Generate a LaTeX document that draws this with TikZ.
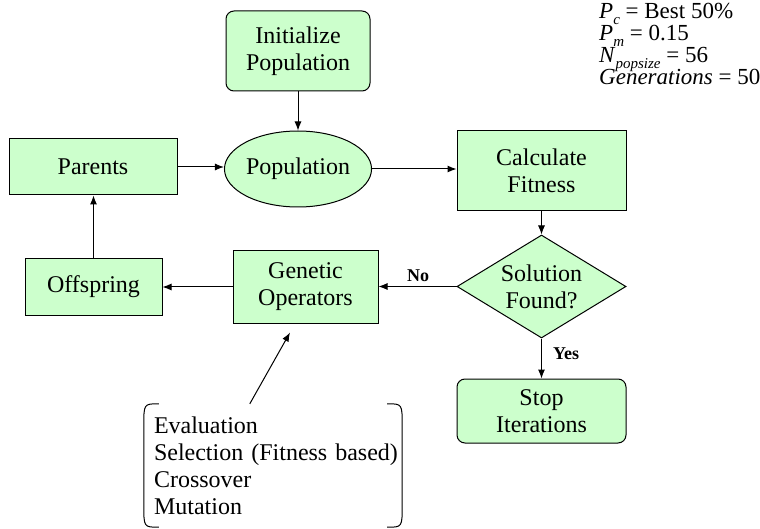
\documentclass[tikz,border=0pt]{standalone}
\usepackage{fontspec}
\setmainfont{Liberation Serif}
\usetikzlibrary{shapes.geometric,arrows.meta,calc}
\definecolor{boxgreen}{HTML}{CCFFCC}
\newcommand\sbs[1]{\smash{\raisebox{-0.28em}{\fontsize{15}{15}\selectfont\itshape #1}}}
\begin{document}
\begin{tikzpicture}[x=1pt,y=-1pt,
  every node/.style={font=\fontsize{24}{27}\selectfont},
  box/.style={draw=black, line width=1pt, fill=boxgreen, align=center, inner sep=0pt},
  rbox/.style={box, rounded corners=8pt},
  arr/.style={line width=1pt, -{Latex[length=9pt,width=7pt]}},
  lbl/.style={font=\fontsize{18}{18}\selectfont\bfseries, inner sep=0pt},
  bracket/.style={line width=1pt}]
\useasboundingbox[fill=white] (0,0) rectangle (760,529);

\node[rbox, minimum width=144pt, minimum height=80pt] (init) at (298,51) {Initialize\\Population};
\node[box, ellipse, minimum width=144pt, minimum height=76pt] (pop) at (298,169) {Population};
\node[box, minimum width=168pt, minimum height=56pt] (parents) at (93,167) {Parents};
\node[box, minimum width=169pt, minimum height=80pt] (calc) at (541.5,171) {Calculate\\Fitness};
\node[box, diamond, aspect=1.64, minimum width=169pt, minimum height=103pt] (sol) at (541.5,286.5) {Solution\\Found?};
\node[box, minimum width=145pt, minimum height=72pt] (gen) at (305.5,287) {Genetic\\Operators};
\node[box, minimum width=137pt, minimum height=56pt] (off) at (93.5,287) {Offspring};
\node[rbox, minimum width=169pt, minimum height=64pt] (stop) at (541.5,411) {Stop\\Iterations};

\node[align=left, inner xsep=0pt, inner ysep=0pt, minimum height=123pt, text width=246pt] (ops) at (277,465.5)
  {Evaluation\\Selection (Fitness based)\\Crossover\\Mutation};
\draw[bracket] ($(ops.north west)+(5,0)$) .. controls ($(ops.north west)+(-10,0)$) .. ($(ops.north west)+(-10,22)$)
  -- ($(ops.south west)+(-10,-22)$) .. controls ($(ops.south west)+(-10,0)$) .. ($(ops.south west)+(5,0)$);
\draw[bracket] ($(ops.north east)+(-13,0)$) .. controls ($(ops.north east)+(2,0)$) .. ($(ops.north east)+(2,22)$)
  -- ($(ops.south east)+(2,-22)$) .. controls ($(ops.south east)+(2,0)$) .. ($(ops.south east)+(-13,0)$);

\node[anchor=north west, align=left, inner sep=0pt, font=\fontsize{23}{22}\selectfont] (params) at (599,3)
  {\textit{P}\sbs{c} = Best 50\%\\
   \textit{P}\sbs{m} = 0.15\\
   \textit{N}\sbs{popsize} = 56\\
   \textit{Generations} = 50};

\draw[arr] (init.south) -- (pop.north);
\draw[arr] (parents.east) -- (parents.east -| pop.west);
\draw[arr] (pop.east) -- (pop.east -| calc.west);
\draw[arr] (calc.south) -- (sol.north);
\draw[arr] (sol.west) -- (sol.west -| gen.east);
\draw[arr] (gen.west) -- (gen.west -| off.east);
\draw[arr] (off.north) -- (off.north |- parents.south);
\draw[arr] (sol.south) -- (stop.north);
\coordinate (opstip) at ($(ops.north west)+(96,0)$);
\coordinate (gentip) at ($(gen.south)+(-15.5,9)$);
\draw[arr] (opstip) -- (gentip);

\node[lbl] (nolbl) at (418,276) {No};
\node[lbl] (yeslbl) at (566,354) {Yes};
\end{tikzpicture}
\end{document}
